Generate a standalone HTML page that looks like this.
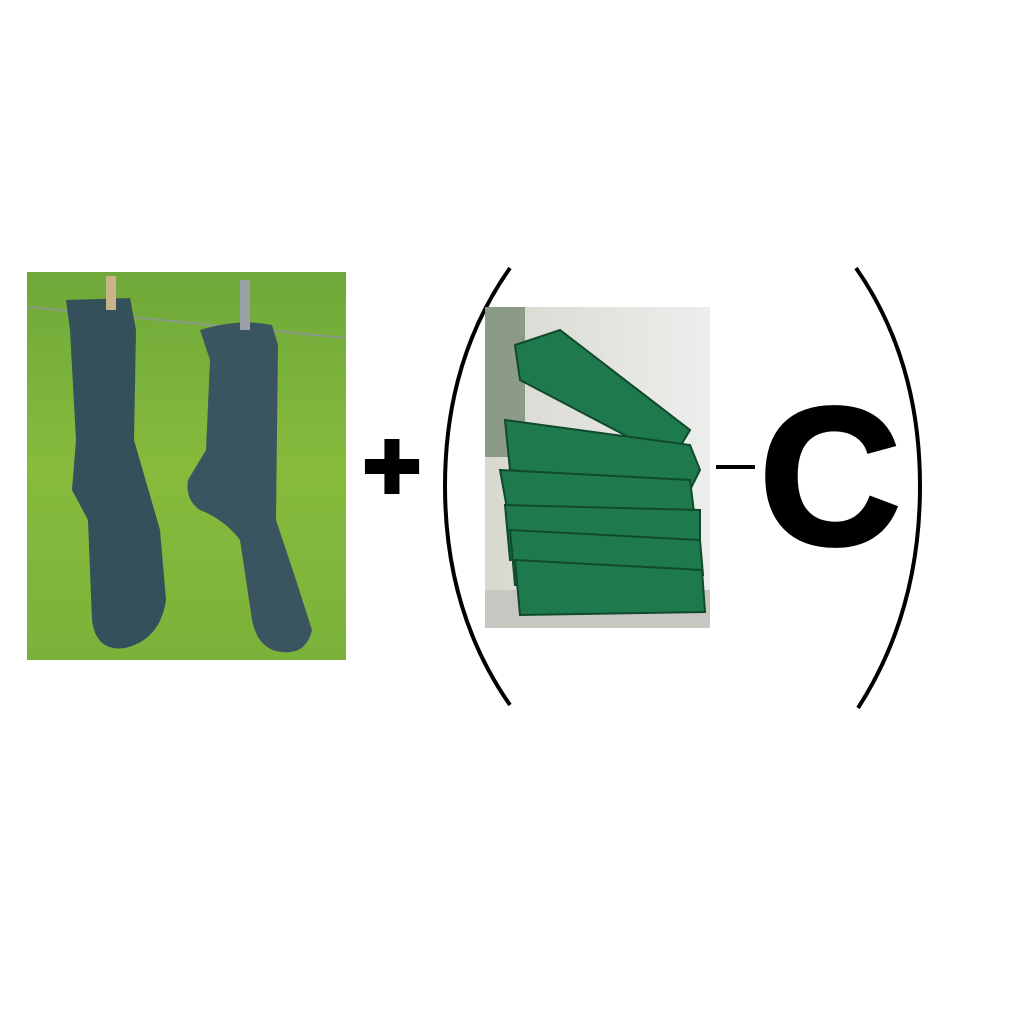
<!DOCTYPE html>
<html><head><meta charset="utf-8"><style>
html,body{margin:0;padding:0;background:#fff;width:1024px;height:1024px;overflow:hidden}
svg{display:block}
</style></head><body>
<svg width="1024" height="1024" viewBox="0 0 1024 1024">
<defs>
<linearGradient id="grass" x1="0" y1="0" x2="0" y2="1">
<stop offset="0" stop-color="#6fa83a"/><stop offset="0.5" stop-color="#86bb3c"/><stop offset="1" stop-color="#7bb23a"/>
</linearGradient>
<linearGradient id="wall" x1="0" y1="0" x2="1" y2="0">
<stop offset="0" stop-color="#d8d8d0"/><stop offset="1" stop-color="#eceeec"/>
</linearGradient>
</defs>
<g>
<rect x="27" y="272" width="319" height="388" fill="url(#grass)"/>
<line x1="27" y1="307" x2="346" y2="338" stroke="#8a9a88" stroke-width="2"/>
<path d="M66 300 L130 298 L136 330 L134 440 L160 530 L166 600 Q160 640 125 648 Q96 652 92 620 L88 520 L72 490 L76 440 L70 330 Z" fill="#34505a"/>
<path d="M200 330 Q240 318 272 325 L278 345 L276 520 L296 580 L312 630 Q306 655 282 652 Q258 650 252 620 L240 540 Q225 520 200 510 Q185 500 188 480 L206 450 L210 360 Z" fill="#3a5560"/>
<rect x="106" y="276" width="10" height="34" fill="#c9b48a"/>
<rect x="240" y="280" width="10" height="50" fill="#9aa0a8"/>
</g>
<text x="392" y="500" text-anchor="middle" font-family="Liberation Sans, sans-serif" font-weight="bold" font-size="100" fill="#000" stroke="#000" stroke-width="4">+</text>
<path d="M510 268 Q445 360 445 486 Q445 612 510 705" fill="none" stroke="#000" stroke-width="4"/>
<g>
<rect x="485" y="307" width="225" height="321" fill="url(#wall)"/>
<rect x="485" y="307" width="40" height="150" fill="#8c9a88"/>
<rect x="485" y="590" width="225" height="38" fill="#c8c6c0"/>
<g fill="#1e7a4c" stroke="#0f4a2c" stroke-width="2">
<path d="M515 345 L560 330 L690 430 L672 460 L520 380 Z"/>
<path d="M505 420 L690 445 L700 470 L690 490 L510 470 Z"/>
<path d="M500 470 L690 480 L695 520 L510 525 Z"/>
<path d="M505 505 L700 510 L700 540 L510 560 Z"/>
<path d="M510 530 L700 540 L703 575 L515 585 Z"/>
<path d="M515 560 L702 570 L705 612 L520 615 Z"/>
</g>
</g>
<line x1="716" y1="467" x2="755" y2="467" stroke="#000" stroke-width="4"/>
<text x="830" y="544" text-anchor="middle" font-family="Liberation Sans, sans-serif" font-weight="bold" font-size="196" fill="#000" stroke="#000" stroke-width="4">C</text>
<path d="M856 268 Q920 360 920 486 Q920 612 858 708" fill="none" stroke="#000" stroke-width="4"/>
</svg>
</body></html>
